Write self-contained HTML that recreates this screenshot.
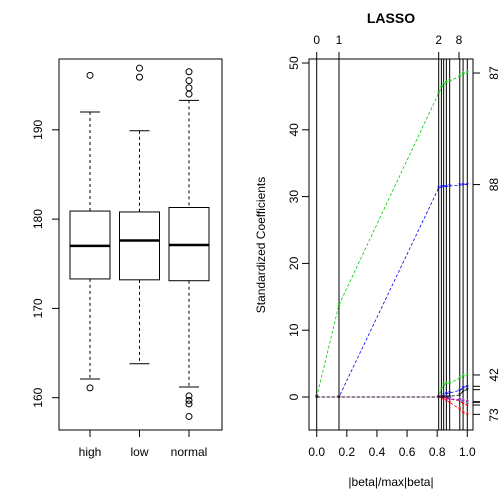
<!DOCTYPE html>
<html><head><meta charset="utf-8"><style>
body{margin:0;background:#fff}
svg{display:block;font-family:"Liberation Sans",sans-serif}
</style></head><body>
<svg id="c" width="504" height="504" viewBox="0 0 504 504">
<g id="left"></g>
<g id="right"></g>
</svg>
<script>
// ---- boxplot data ----
const groups = ["high","low","normal"];
const whiskHi = [192.0,189.9,193.3];
const q3s = [180.9,180.8,181.3];
const medians = [177.0,177.6,177.1];
const q1s = [173.3,173.2,173.1];
const whiskLo = [162.1,163.8,161.2];
const outliers = [[196.1,161.1],[196.9,195.9],[196.5,195.5,194.7,194.0,160.2,159.7,159.3,157.9]];
const leftTicks = [160,170,180,190];
// ---- lasso data ----
const fracs = [0,0.148,0.81,0.828,0.843,0.861,0.883,0.95,0.972,1.0];
const stepLabels = ["0","1","2","8"];
const stepLabelFracs = [0,0.148,0.81,0.945];
const coefGreen = [0,13.8,45.5,46.3,46.8,47.1,47.3,48,48.4,48.5];
const coefBlue = [0,0,31.3,31.4,31.5,31.5,31.6,31.7,31.8,31.8];
const coefGreen2 = [0,0,0,1.2,1.8,2.0,2.1,2.8,3.1,3.3];
const coefBlue2 = [0,0,0,0,0.3,0.5,0.6,1.0,1.4,1.6];
const coefRed = [0,0,0,-0.1,-0.3,-0.5,-0.8,-1.8,-2.3,-2.6];
const coefRed2 = [0,0,0,0,0,-0.1,-0.3,-0.6,-1.0,-1.2];
const coefCyan = [0,0,0,0,0,0,-0.2,-0.5,-0.7,-0.8];
const coefMagenta = [0,0,0,0,-0.1,-0.2,-0.3,-0.4,-0.6,-0.7];
const coefBlack = [0,0,0,0,0,0,0.1,0.3,0.9,1.1];
const rightYTicks = [0,10,20,30,40,50];
const rightXTicks = [0,0.2,0.4,0.6,0.8,1.0];
const varLabels = ["87","88","42","73"];
const varLabelVals = [48.5,31.8,3.3,-2.7];

const NS="http://www.w3.org/2000/svg";
function mk(p,t,a,txt){const e=document.createElementNS(NS,t);for(const k in a)e.setAttribute(k,a[k]);if(txt!==undefined)e.textContent=txt;p.appendChild(e);return e;}
const L=document.getElementById('left'), R=document.getElementById('right');

// left axes
const ly=v=>397.7-(v-160)*8.93;
const lx=i=>90+i*49.5;
let e=mk(L,'rect',{x:59,y:59,width:163,height:371,fill:'none',stroke:'#000'});


leftTicks.forEach(t=>{
  mk(L,'line',{x1:52,x2:59,y1:ly(t),y2:ly(t),stroke:'#000'});
  e=mk(L,'text',{x:42,y:ly(t),'font-size':12,'text-anchor':'middle',transform:`rotate(-90 42 ${ly(t)})`},t);
  
  
});
groups.forEach((g,i)=>{
  const cx=lx(i),hw=20;
  const bg=mk(L,'g',{});
  
  
  mk(bg,'line',{x1:cx,x2:cx,y1:ly(whiskHi[i]),y2:ly(q3s[i]),stroke:'#000','stroke-dasharray':'3,3'});
  mk(bg,'line',{x1:cx,x2:cx,y1:ly(q1s[i]),y2:ly(whiskLo[i]),stroke:'#000','stroke-dasharray':'3,3'});
  mk(bg,'line',{x1:cx-10,x2:cx+10,y1:ly(whiskHi[i]),y2:ly(whiskHi[i]),stroke:'#000'});
  mk(bg,'line',{x1:cx-10,x2:cx+10,y1:ly(whiskLo[i]),y2:ly(whiskLo[i]),stroke:'#000'});
  mk(bg,'rect',{x:cx-hw,y:ly(q3s[i]),width:2*hw,height:ly(q1s[i])-ly(q3s[i]),fill:'none',stroke:'#000'});
  mk(bg,'line',{x1:cx-hw,x2:cx+hw,y1:ly(medians[i]),y2:ly(medians[i]),stroke:'#000','stroke-width':2.5});
  outliers[i].forEach(o=>mk(bg,'circle',{cx:cx,cy:ly(o),r:3,fill:'none',stroke:'#000'}));
  mk(L,'line',{x1:cx,x2:cx,y1:430,y2:437,stroke:'#000'});
  e=mk(L,'text',{x:cx,y:456,'font-size':12,'text-anchor':'middle'},g);
  
  
});

// right axes
const rx=v=>316.7+v*150.6;
const ry=v=>397-v*6.68;
e=mk(R,'rect',{x:309,y:59,width:164,height:371,fill:'none',stroke:'#000'});


e=mk(R,'text',{x:391,y:23,'font-size':14,'font-weight':'bold','text-anchor':'middle'},'LASSO');


rightYTicks.forEach(t=>{
  mk(R,'line',{x1:302,x2:309,y1:ry(t),y2:ry(t),stroke:'#000'});
  mk(R,'text',{x:298,y:ry(t),'font-size':12,'text-anchor':'middle',transform:`rotate(-90 298 ${ry(t)})`},t);
});
rightXTicks.forEach(t=>{
  mk(R,'line',{x1:rx(t),x2:rx(t),y1:430,y2:437,stroke:'#000'});
  mk(R,'text',{x:rx(t),y:456,'font-size':12,'text-anchor':'middle'},t.toFixed(1));
});
e=mk(R,'text',{x:391,y:486,'font-size':12,'text-anchor':'middle'},'|beta|/max|beta|');


e=mk(R,'text',{x:265,y:245,'font-size':12,'text-anchor':'middle',transform:'rotate(-90 265 245)'},'Standardized Coefficients');


stepLabels.forEach((s,i)=>{
  mk(R,'line',{x1:rx(stepLabelFracs[i]),x2:rx(stepLabelFracs[i]),y1:52,y2:59,stroke:'#000'});
  mk(R,'text',{x:rx(stepLabelFracs[i]),y:44,'font-size':12,'text-anchor':'middle'},s);
});
fracs.forEach(f=>{
  const l=mk(R,'line',{x1:rx(f),x2:rx(f),y1:59,y2:430,stroke:'#000','stroke-width':1});
  
  
});
mk(R,'line',{x1:rx(0),x2:rx(0.85),y1:ry(0),y2:ry(0),stroke:'#000','stroke-dasharray':'1,1.5','stroke-width':1});
const series=[[coefGreen,'#00cd00'],[coefBlue,'#0000ff'],[coefGreen2,'#00cd00'],[coefBlue2,'#0000ff'],[coefRed,'#ff0000'],[coefRed2,'#ff0000'],[coefCyan,'#00cccc'],[coefMagenta,'#cc00cc'],[coefBlack,'#000']];
series.forEach(([vals,col],k)=>{
  const g=mk(R,'g',{});
  
  
  mk(g,'polyline',{points:vals.map((v,i)=>rx(fracs[i])+','+ry(v)).join(' '),fill:'none',stroke:col,'stroke-dasharray':'3,2','stroke-width':0.8});
  vals.forEach((v,i)=>mk(g,'text',{x:rx(fracs[i]),y:ry(v)+4,'font-size':9,fill:col,'text-anchor':'middle'},'*'));
  const last=vals[vals.length-1];
  mk(R,'line',{x1:473,x2:480,y1:ry(last),y2:ry(last),stroke:'#000'});
});
varLabels.forEach((s,i)=>{
  const y=ry(varLabelVals[i]);
  mk(R,'text',{x:498,y:y,'font-size':12,'text-anchor':'middle',transform:`rotate(-90 498 ${y})`},s);
});
</script>
</body></html>
